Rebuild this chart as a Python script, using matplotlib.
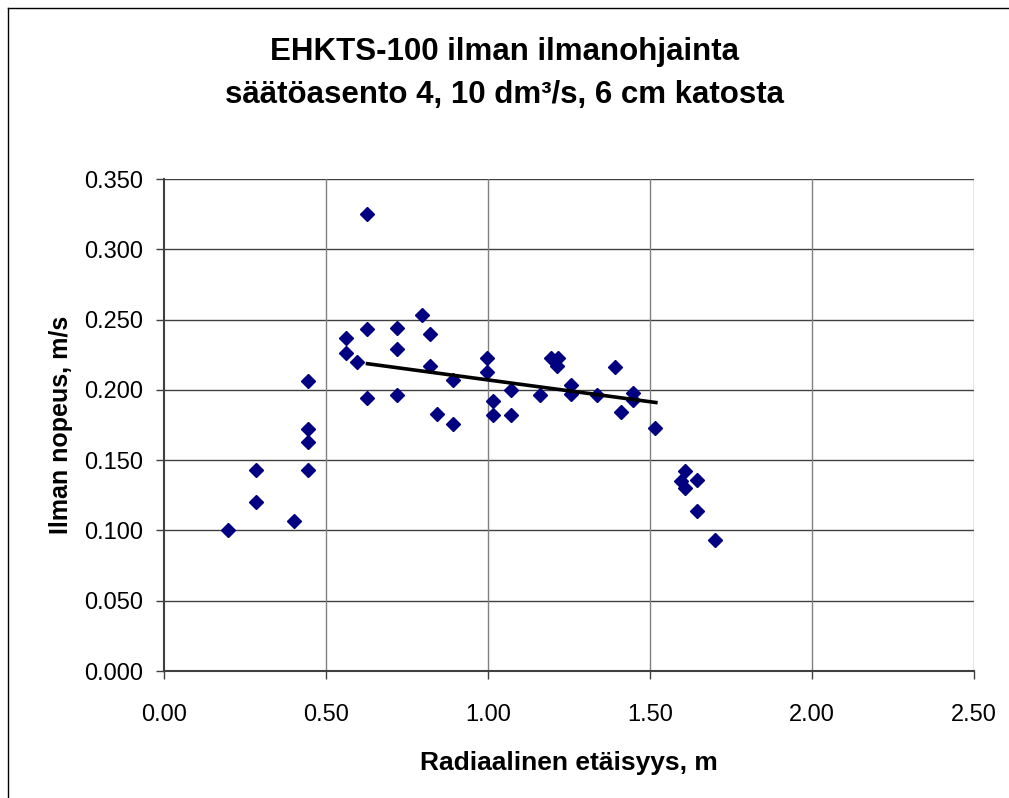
import matplotlib
matplotlib.use("Agg")
import matplotlib.pyplot as plt
from matplotlib.lines import Line2D

plt.rcParams['font.family'] = ['Liberation Sans', 'DejaVu Sans']

# Data
x_vals = [0.196, 0.283, 0.283, 0.400, 0.443, 0.443, 0.443, 0.443,
          0.561, 0.561, 0.597, 0.628, 0.628, 0.628, 0.720, 0.720, 0.720,
          0.795, 0.820, 0.820, 0.844, 0.892, 0.892, 0.997, 0.997,
          1.016, 1.016, 1.071, 1.071, 1.159, 1.195, 1.215, 1.212,
          1.256, 1.256, 1.336, 1.392, 1.410, 1.447, 1.447, 1.516,
          1.595, 1.607, 1.609, 1.646, 1.646, 1.701]
y_vals = [0.100, 0.143, 0.120, 0.107, 0.206, 0.172, 0.163, 0.143,
          0.237, 0.226, 0.220, 0.325, 0.243, 0.1945, 0.244, 0.229, 0.196,
          0.253, 0.240, 0.217, 0.183, 0.207, 0.176, 0.223, 0.213,
          0.192, 0.182, 0.200, 0.182, 0.196, 0.223, 0.223, 0.217,
          0.2035, 0.197, 0.196, 0.216, 0.184, 0.198, 0.193, 0.173,
          0.135, 0.142, 0.130, 0.136, 0.114, 0.093]

# Linear trend line end points
trend_x = [0.628, 1.518]
trend_y = [0.2186, 0.191]

x_ticks = [0.0, 0.5, 1.0, 1.5, 2.0, 2.5]
y_ticks = [0.0, 0.05, 0.10, 0.15, 0.20, 0.25, 0.30, 0.35]

title_lines = ["EHKTS-100 ilman ilmanohjainta",
               "säätöasento 4, 10 dm³/s, 6 cm katosta"]
xlabel = "Radiaalinen etäisyys, m"
ylabel = "Ilman nopeus, m/s"

W, H = 1009, 798
fig = plt.figure(figsize=(W / 100, H / 100), dpi=100)
fig.patch.set_facecolor('white')

# outer chart border (top and left visible)
fig.lines.append(Line2D([8 / W, 1.0], [1 - 8 / H, 1 - 8 / H],
                        transform=fig.transFigure, color='black', linewidth=1.0))
fig.lines.append(Line2D([8 / W, 8 / W], [0.0, 1 - 8 / H],
                        transform=fig.transFigure, color='black', linewidth=1.0))

left, right, top, bottom = 164, 974, 179, 671
ax = fig.add_axes([left / W, 1 - bottom / H, (right - left) / W, (bottom - top) / H])

ax.set_xlim(0, 2.5)
ax.set_ylim(0, 0.35)
ax.set_xticks(x_ticks)
ax.set_yticks(y_ticks)
ax.set_xticklabels([f"{v:.2f}" for v in x_ticks])
ax.set_yticklabels([f"{v:.3f}" for v in y_ticks])

for v in y_ticks[1:]:
    ax.axhline(v, color='#404040', linewidth=1.0, zorder=1)
for v in x_ticks[1:]:
    ax.axvline(v, color='#808080', linewidth=1.0, zorder=1)

for s in ['top', 'right']:
    ax.spines[s].set_visible(False)
ax.spines['left'].set_color('#404040')
ax.spines['bottom'].set_color('#404040')
ax.spines['left'].set_linewidth(1.5)
ax.spines['bottom'].set_linewidth(1.5)

ax.tick_params(axis='both', direction='out', length=6, width=1, color='#404040',
               labelsize=17)
ax.tick_params(axis='x', pad=18)
ax.tick_params(axis='y', pad=9)

ax.plot(x_vals, y_vals, linestyle='none', marker='D', markersize=6.8,
        color='#000080', zorder=3)
ax.plot(trend_x, trend_y, color='black', linewidth=2.6, zorder=4)

ax.set_xlabel(xlabel, fontsize=19, fontweight='bold', labelpad=18)
ax.set_ylabel(ylabel, fontsize=18, fontweight='bold', labelpad=8)

fig.text(0.5, 1 - 60 / H, title_lines[0], ha='center', va='baseline',
         fontsize=22.5, fontweight='bold')
fig.text(0.5, 1 - 103 / H, title_lines[1], ha='center', va='baseline',
         fontsize=22.5, fontweight='bold')

fig.savefig("out.png", dpi=100)
